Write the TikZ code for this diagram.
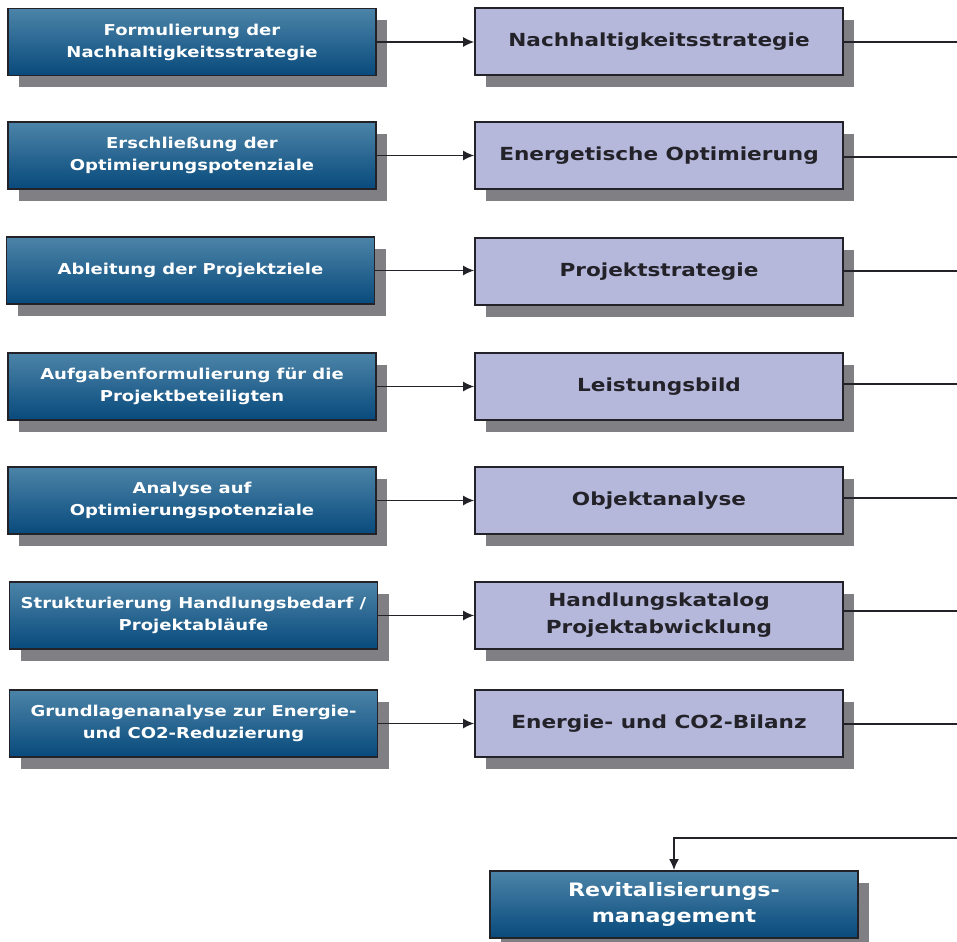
\documentclass[tikz,border=0pt]{standalone}
\usepackage{fontspec}
\setmainfont{DejaVu Sans}[FakeStretch=1.2]
\usetikzlibrary{arrows.meta,shadows}
\definecolor{topblue}{RGB}{76,132,168}
\definecolor{botblue}{RGB}{8,74,124}
\definecolor{lilac}{RGB}{181,183,219}
\definecolor{shadowgray}{RGB}{128,128,132}
\definecolor{edge}{RGB}{34,34,40}
\tikzset{
  boxshadow/.style={drop shadow={shadow xshift=11pt,shadow yshift=-12pt,fill=shadowgray,opacity=1}},
  leftbox/.style={draw=edge,line width=1.8pt,top color=topblue,bottom color=botblue,text=white,
    font=\bfseries\fontsize{15}{22}\selectfont,align=center,inner sep=0pt,
    minimum width=368pt,minimum height=67pt,boxshadow},
  rightbox/.style={draw=edge,line width=1.8pt,fill=lilac,text=edge,
    font=\bfseries\fontsize{18}{27}\selectfont,align=center,inner sep=0pt,
    minimum width=368pt,minimum height=67pt,boxshadow},
  endbox/.style={leftbox,font=\bfseries\fontsize{18.5}{26}\selectfont},
  link/.style={line width=1.3pt,draw=edge,-{Latex[length=11pt,width=10pt]}},
  outline/.style={line width=1.8pt,draw=edge}
}
\begin{document}
\begin{tikzpicture}[x=1pt,y=-1pt]
\useasboundingbox (0,0) rectangle (957,941);
\node[leftbox] (l1) at (192,42) {Formulierung der\\Nachhaltigkeitsstrategie};
\node[leftbox] (l2) at (192,155.5) {Erschließung der\\Optimierungspotenziale};
\node[leftbox] (l3) at (190.5,270.5) {Ableitung der Projektziele};
\node[leftbox] (l4) at (192,386.5) {Aufgabenformulierung für die\\Projektbeteiligten};
\node[leftbox] (l5) at (192,500.5) {Analyse auf\\Optimierungspotenziale};
\node[leftbox] (l6) at (193.5,615.5) {Strukturierung Handlungsbedarf /\\Projektabläufe};
\node[leftbox] (l7) at (193.5,723.5) {Grundlagenanalyse zur Energie-\\und CO2-Reduzierung};

\node[rightbox] (r1) at (659,41.5) {Nachhaltigkeitsstrategie};
\node[rightbox] (r2) at (659,155.5) {Energetische Optimierung};
\node[rightbox] (r3) at (659,271.5) {Projektstrategie};
\node[rightbox] (r4) at (659,386.5) {Leistungsbild};
\node[rightbox] (r5) at (659,500.5) {Objektanalyse};
\node[rightbox] (r6) at (659,615.5) {Handlungskatalog\\Projektabwicklung};
\node[rightbox] (r7) at (659,723.5) {Energie- und CO2-Bilanz};

\node[endbox] (rm) at (674,904.5) {Revitalisierungs-\\management};

\draw[link] (l1.east) -- (l1.east -| r1.west);
\draw[link] (l2.east) -- (l2.east -| r2.west);
\draw[link] (l3.east) -- (l3.east -| r3.west);
\draw[link] (l4.east) -- (l4.east -| r4.west);
\draw[link] (l5.east) -- (l5.east -| r5.west);
\draw[link] (l6.east) -- (l6.east -| r6.west);
\draw[link] (l7.east) -- (l7.east -| r7.west);

\coordinate (e1) at (957,42);
\coordinate (e2) at (957,157);
\coordinate (e3) at (957,271);
\coordinate (e4) at (957,384);
\coordinate (e5) at (957,498);
\coordinate (e6) at (957,611);
\coordinate (e7) at (957,724);
\coordinate (eb) at (957,838);
\draw[outline] (r1.east |- e1) -- (e1);
\draw[outline] (r2.east |- e2) -- (e2);
\draw[outline] (r3.east |- e3) -- (e3);
\draw[outline] (r4.east |- e4) -- (e4);
\draw[outline] (r5.east |- e5) -- (e5);
\draw[outline] (r6.east |- e6) -- (e6);
\draw[outline] (r7.east |- e7) -- (e7);
\draw[outline,-{Latex[length=11pt,width=10pt]}] (eb) -- (eb -| rm.north) -- (rm.north);
\end{tikzpicture}
\end{document}
